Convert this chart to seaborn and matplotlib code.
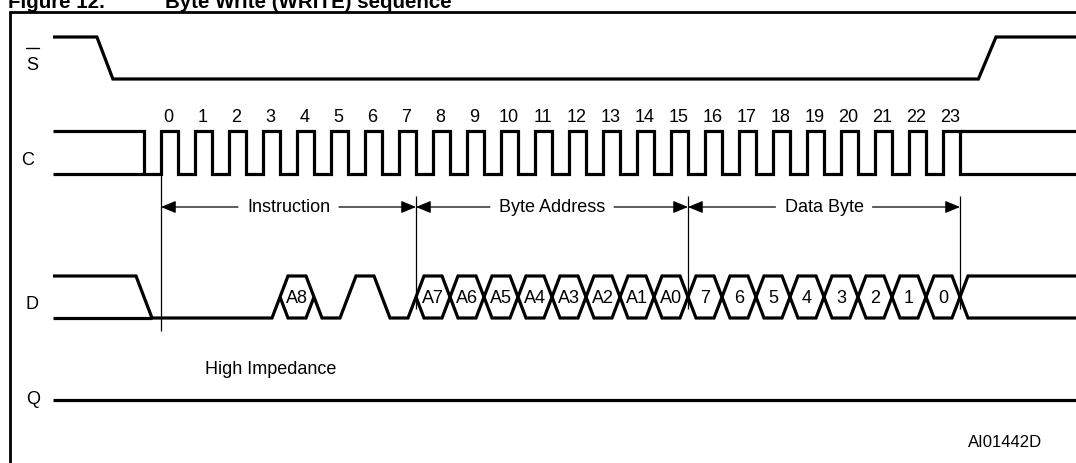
import numpy as np
import pandas as pd
import matplotlib
matplotlib.use("Agg")
import matplotlib.pyplot as plt
import seaborn as sns
from matplotlib.patches import FancyArrowPatch

# ---------------- data ----------------
signal_names = ["S", "C", "D", "Q"]
clock_numbers = list(range(24))
instruction_bits = ["0", "0", "0", "0", "A8", "0", "1", "0"]
address_bits = ["A7", "A6", "A5", "A4", "A3", "A2", "A1", "A0"]
data_bits = ["7", "6", "5", "4", "3", "2", "1", "0"]
section_labels = ["Instruction", "Byte Address", "Data Byte"]
section_bounds = [0.0, 7.5, 15.5, 23.5]   # in clock periods
s_fall_time = -1.65
s_rise_time = 24.3
q_label = "High Impedance"
figure_code = "AI01442D"
title_number = "Figure 12."
title_text = "Byte Write (WRITE) sequence"

# ---------------- layout ----------------
W, H = 1076, 464
X0, PER = 161.0, 34.0          # pixel x of clock 0 rising edge, pixels per clock


def tx(px):
    return (px - X0) / PER


T_LEFT, T_RIGHT = tx(0), tx(W)
SIG_START = tx(53)
SIG_END = T_RIGHT + 1
w = 8.0 / PER

S_HI, S_LO = 38, 80
C_HI, C_LO = 132, 175
D_HI, D_LO = 277, 319
D_MID = (D_HI + D_LO) / 2
Q_Y = 401
ARROW_Y = 208
FS = 13
FONT = ["Liberation Sans", "DejaVu Sans"]

sns.set_theme(style="white")
plt.rcParams["font.family"] = FONT

fig = plt.figure(figsize=(W / 100, H / 100), dpi=100)
ax = fig.add_axes([0, 0, 1, 1])

segments = []

# S signal
segments.append([(SIG_START, S_HI), (s_fall_time - w, S_HI), (s_fall_time + w, S_LO),
                 (s_rise_time - w * 1.1, S_LO), (s_rise_time + w * 1.1, S_HI), (SIG_END, S_HI)])

# C signal
c_path = [(SIG_START, C_LO), (clock_numbers[0], C_LO)]
for k in clock_numbers:
    c_path += [(k, C_LO), (k, C_HI), (k + 0.5, C_HI), (k + 0.5, C_LO)]
c_path.append((SIG_END, C_LO))
segments.append(c_path)
segments.append([(SIG_START, C_HI), (clock_numbers[0] - 0.5, C_HI), (clock_numbers[0] - 0.5, C_LO)])
segments.append([(clock_numbers[-1] + 0.5, C_HI), (SIG_END, C_HI)])

# D signal
states = [("X", None)]
for b in instruction_bits:
    if b == "0":
        states.append(("L", None))
    elif b == "1":
        states.append(("H", None))
    else:
        states.append(("B", b))
for b in address_bits + data_bits:
    states.append(("B", b))
states.append(("X", None))
trans_times = [k - 0.5 for k in range(len(states) - 1)]


def lev(kind):
    return D_LO if kind == "L" else D_HI


def opp(kind):
    return D_HI if kind == "L" else D_LO


def levels(kind):
    if kind in ("L", "H"):
        return [lev(kind)]
    return [D_HI, D_LO]


d_segs = []
for i, (kind, lab) in enumerate(states):
    start = SIG_START if i == 0 else trans_times[i - 1] + w
    end = SIG_END if i == len(states) - 1 else trans_times[i] - w
    for y in levels(kind):
        d_segs.append([(start, y), (end, y)])

for i, t in enumerate(trans_times):
    A = states[i][0]
    B = states[i + 1][0]
    if A in "LH" and B in "LH":
        d_segs.append([(t - w, lev(A)), (t + w, lev(B))])
    elif A in "LH":
        d_segs.append([(t - w, lev(A)), (t + w, opp(A))])
        d_segs.append([(t, D_MID), (t + w, lev(A))])
    elif B in "LH":
        d_segs.append([(t - w, opp(B)), (t + w, lev(B))])
        if A == "X":
            d_segs.append([(t - w, lev(B)), (t + w, lev(B))])
        else:
            d_segs.append([(t - w, lev(B)), (t, D_MID)])
    else:
        d_segs.append([(t - w, D_HI), (t + w, D_LO)])
        d_segs.append([(t - w, D_LO), (t + w, D_HI)])


def close(p, q):
    return abs(p[0] - q[0]) < 1e-6 and abs(p[1] - q[1]) < 1e-6


# chain connected pieces into continuous polylines (no seams)
paths = [list(s) for s in d_segs]
merged = True
while merged:
    merged = False
    for i in range(len(paths)):
        for j in range(len(paths)):
            if i != j and close(paths[i][-1], paths[j][0]):
                paths[i] = paths[i] + paths[j][1:]
                paths.pop(j)
                merged = True
                break
        if merged:
            break
segments += paths

# Q signal
segments.append([(SIG_START, Q_Y), (SIG_END, Q_Y)])

rows = []
for sid, seg in enumerate(segments):
    for j, (x, y) in enumerate(seg):
        rows.append({"x": x, "y": y, "seg": sid, "order": j})
df = pd.DataFrame(rows)

sns.lineplot(data=df, x="x", y="y", units="seg", estimator=None, sort=False,
             color="black", linewidth=2.3, solid_joinstyle="miter",
             solid_capstyle="butt", ax=ax, legend=False)

# frame (left + top)
frame = pd.DataFrame({"x": [tx(10), tx(10), SIG_END], "y": [H + 10, 13, 13]})
sns.lineplot(data=frame, x="x", y="y", sort=False, estimator=None, color="black",
             linewidth=2.0, solid_joinstyle="miter", ax=ax)

ax.set_xlim(T_LEFT, T_RIGHT)
ax.set_ylim(H, 0)
ax.axis("off")

# marker lines
ax.vlines(section_bounds[0], C_LO, 332, color="black", lw=0.9)
ax.vlines(section_bounds[1:], 197, 310, color="black", lw=0.9)

# signal names
name_pos = {"S": (32, 65), "C": (28, 161), "D": (32, 305), "Q": (33, 400)}
for n in signal_names:
    px, py = name_pos[n]
    ax.text(tx(px), py, n, ha="center", va="center", fontsize=FS, color="black")
ax.plot([tx(26), tx(39)], [49, 49], color="black", lw=1.0)

# clock numbers
for k in clock_numbers:
    ax.text(k + 0.22, 117, str(k), ha="center", va="center", fontsize=FS, color="black")

# bus labels
for i, (kind, lab) in enumerate(states):
    if kind == "B":
        ax.text(i - 1, D_MID + 1, lab, ha="center", va="center", fontsize=FS, color="black")

# section arrows
fig.canvas.draw()
renderer = fig.canvas.get_renderer()
inv = ax.transData.inverted()
gap = 9.0 / PER
for i, lab in enumerate(section_labels):
    a, b = section_bounds[i], section_bounds[i + 1]
    txt = ax.text((a + b) / 2, ARROW_Y, lab, ha="center", va="center", fontsize=FS, color="black")
    bb = txt.get_window_extent(renderer)
    (l, _), (r, _) = inv.transform([(bb.x0, bb.y0), (bb.x1, bb.y1)])
    for start, end in [((l - gap), a), ((r + gap), b)]:
        arr = FancyArrowPatch((start, ARROW_Y), (end, ARROW_Y),
                              arrowstyle="-|>,head_length=0.6,head_width=0.25",
                              mutation_scale=15, color="black", lw=0.9,
                              shrinkA=0, shrinkB=0)
        ax.add_patch(arr)

# other texts
ax.text(tx(205), 370, q_label, ha="left", va="center", fontsize=FS, color="black")
ax.text(tx(1005), 443, figure_code, ha="center", va="center", fontsize=FS * 0.92, color="black")

fig.text(8 / W, 1 - 8 / H, title_number, ha="left", va="baseline",
         fontsize=14.8, fontweight="bold", color="black")
fig.text(165 / W, 1 - 8 / H, title_text, ha="left", va="baseline",
         fontsize=14.8, fontweight="bold", color="black")

fig.savefig("out.png", dpi=100)
